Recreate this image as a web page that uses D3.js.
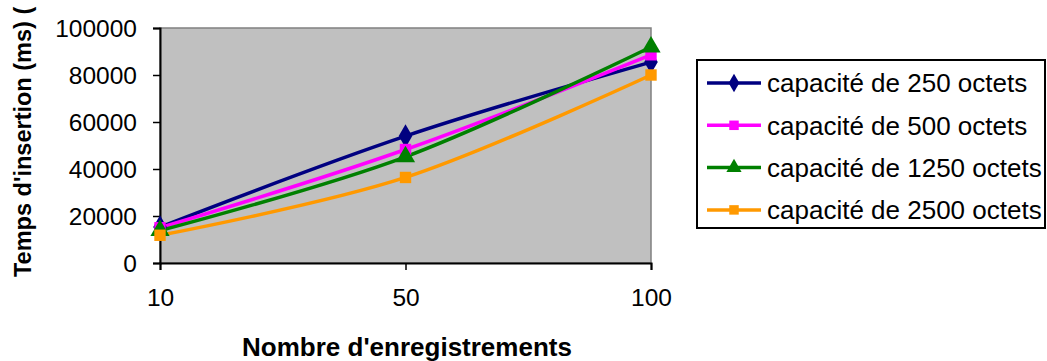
<!DOCTYPE html>
<html>
<head>
<meta charset="utf-8">
<script src="https://cdn.jsdelivr.net/npm/d3@7"></script>
<style>
  body { margin: 0; background: #fff; }
  text { font-family: "Liberation Sans", Arial, sans-serif; fill: #000; }
</style>
</head>
<body>
<svg id="chart" width="1047" height="361"></svg>
<script>
// values
var categories = ["10", "50", "100"];
var yTicks = [0, 20000, 40000, 60000, 80000, 100000];
var seriesNames = ["capacité de 250 octets", "capacité de 500 octets", "capacité de 1250 octets", "capacité de 2500 octets"];
var values250  = [15300, 54000, 85500];
var values500  = [15000, 48300, 88600];
var values1250 = [13800, 45200, 91900];
var values2500 = [11800, 36400, 80000];

var colors = ["#000080", "#ff00ff", "#008000", "#ff9900"];
var symbols = [d3.symbolDiamond, d3.symbolSquare, d3.symbolTriangle, d3.symbolSquare];

var series = [values250, values500, values1250, values2500].map(function(v, i){
  return { name: seriesNames[i], values: v, color: colors[i], symbol: symbols[i] };
});

var svg = d3.select("#chart");
var plot = {left: 160, right: 651, top: 28, bottom: 263};

var x = d3.scalePoint().domain(categories).range([plot.left, plot.right]).padding(0);
var y = d3.scaleLinear().domain([0, 100000]).range([plot.bottom, plot.top]);

// gray plot area
svg.append("rect")
  .attr("x", plot.left).attr("y", plot.top)
  .attr("width", plot.right - plot.left).attr("height", plot.bottom - plot.top)
  .attr("fill", "#c0c0c0")
  .attr("stroke", "#808080").attr("stroke-width", 1.5);

// y axis
var yAxis = svg.append("g")
  .attr("transform", "translate(" + plot.left + ",0)")
  .call(d3.axisLeft(y).tickValues(yTicks).tickSize(7).tickPadding(16).tickFormat(d3.format("d")));
yAxis.select(".domain").attr("stroke", "#000").attr("stroke-width", 2);
yAxis.selectAll(".tick line").attr("stroke", "#000").attr("stroke-width", 1.5);
yAxis.selectAll(".tick text").style("font-size", "24.5px").attr("dy", "0.36em");

// x axis
var xAxis = svg.append("g")
  .attr("transform", "translate(0," + plot.bottom + ")")
  .call(d3.axisBottom(x).tickSize(7).tickPadding(19));
xAxis.select(".domain").attr("stroke", "#000").attr("stroke-width", 2);
xAxis.selectAll(".tick line").attr("stroke", "#000").attr("stroke-width", 1.5);
xAxis.selectAll(".tick text").style("font-size", "24.5px");

// axis titles
svg.append("text")
  .attr("x", 407).attr("y", 356)
  .attr("text-anchor", "middle")
  .style("font-size", "26px").style("font-weight", "bold")
  .text("Nombre d'enregistrements");

svg.append("text")
  .attr("transform", "translate(31,277) rotate(-90)")
  .attr("text-anchor", "start")
  .style("font-size", "23.5px").style("font-weight", "bold")
  .text("Temps d'insertion (ms) (");

// lines (smoothed like the original)
var line = d3.line()
  .x(function(d, i){ return x(categories[i]); })
  .y(function(d){ return y(d); })
  .curve(d3.curveCardinal.tension(0));

series.forEach(function(s){
  svg.append("path")
    .attr("d", line(s.values))
    .attr("fill", "none")
    .attr("stroke", s.color)
    .attr("stroke-width", 3.5);
});

series.forEach(function(s){
  svg.selectAll(null)
    .data(s.values)
    .enter().append("path")
    .attr("transform", function(d, i){ return "translate(" + x(categories[i]) + "," + y(d) + ")"; })
    .attr("d", d3.symbol().type(s.symbol).size(s.symbol === d3.symbolSquare ? 130 : 160))
    .attr("fill", s.color);
});

// legend
var legend = svg.append("g");
legend.append("rect")
  .attr("x", 697).attr("y", 60).attr("width", 348).attr("height", 168)
  .attr("fill", "#fff").attr("stroke", "#000").attr("stroke-width", 2);

var rows = legend.selectAll(".row")
  .data(series)
  .enter().append("g")
  .attr("class", "row")
  .attr("transform", function(d, i){ return "translate(0," + (83 + i * 42.3) + ")"; });

rows.append("line")
  .attr("x1", 707).attr("x2", 761).attr("y1", 0).attr("y2", 0)
  .attr("stroke", function(d){ return d.color; })
  .attr("stroke-width", 3.5);

rows.append("path")
  .attr("transform", "translate(734,0)")
  .attr("d", function(d){ return d3.symbol().type(d.symbol).size(d.symbol === d3.symbolSquare ? 90 : 100)(); })
  .attr("fill", function(d){ return d.color; });

rows.append("text")
  .attr("x", 767).attr("y", 0).attr("dy", "0.36em")
  .style("font-size", "26px")
  .text(function(d){ return d.name; });
</script>
</body>
</html>
